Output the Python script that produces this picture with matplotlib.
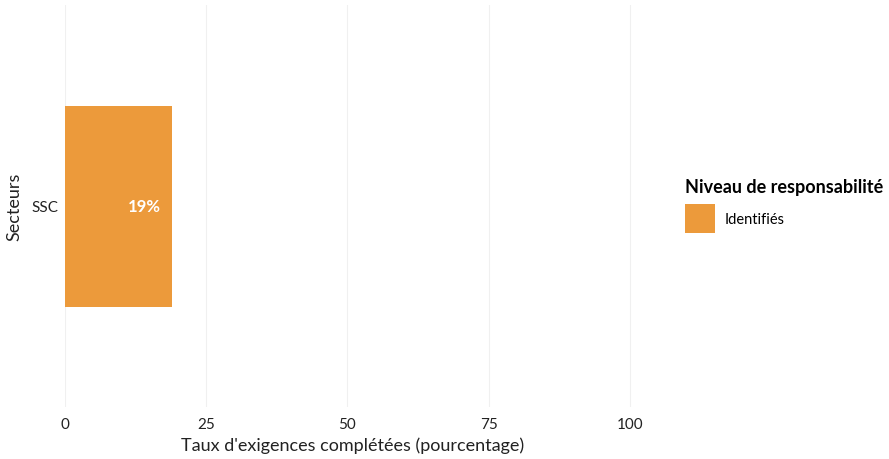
import matplotlib
matplotlib.use("Agg")
import matplotlib.pyplot as plt
from matplotlib.patches import Patch

plt.rcParams['font.family'] = ['Lato', 'DejaVu Sans']

# data
secteurs = ["SSC"]
taux = [19]
niveau = "Identifiés"
couleur = "#EC9A3B"
xticks = [0, 25, 50, 75, 100]

fig = plt.figure(figsize=(8.89, 4.6), dpi=100)
W, H = 889, 460
ax = fig.add_axes([65 / W, (460 - 408) / H, (641 - 65) / W, 402 / H])

ax.barh(range(len(secteurs)), taux, height=0.6, color=couleur, zorder=2)
for i, v in enumerate(taux):
    ax.text(v - 2, i, f"{v}%", ha="right", va="center", color="white",
            fontsize=12, fontweight="bold", zorder=3)

ax.set_xlim(0, 102)
ax.set_ylim(-0.6, len(secteurs) - 0.4)
ax.set_xticks(xticks)
ax.set_xticklabels([str(t) for t in xticks], fontsize=11, color="#222222")
ax.set_yticks(range(len(secteurs)))
ax.set_yticklabels(secteurs, fontsize=11, color="#222222")
ax.tick_params(axis="x", length=0, pad=7)
ax.tick_params(axis="y", length=0, pad=5)
ax.grid(axis="x", color="#F0F0F0", linewidth=0.8, zorder=0)
for s in ax.spines.values():
    s.set_visible(False)

ax.set_xlabel("Taux d'exigences complétées (pourcentage)", fontsize=13, color="#222222", labelpad=4)
ax.set_ylabel("Secteurs", fontsize=13, color="#222222")
ax.yaxis.set_label_coords(-0.074, 0.5)

handles = [Patch(facecolor=couleur, edgecolor="none", label=niveau)]
leg = fig.legend(handles=handles, loc="upper left", bbox_to_anchor=(685 / W, 1 - 179 / H),
                 frameon=False, title="Niveau de responsabilité", fontsize=10.5,
                 title_fontproperties={"weight": "bold", "size": 13},
                 handlelength=2.05, handleheight=2.7, handletextpad=0.7,
                 labelspacing=0.6, borderpad=0, borderaxespad=0)
leg._legend_box.align = "left"

fig.savefig("out.png", dpi=100)
